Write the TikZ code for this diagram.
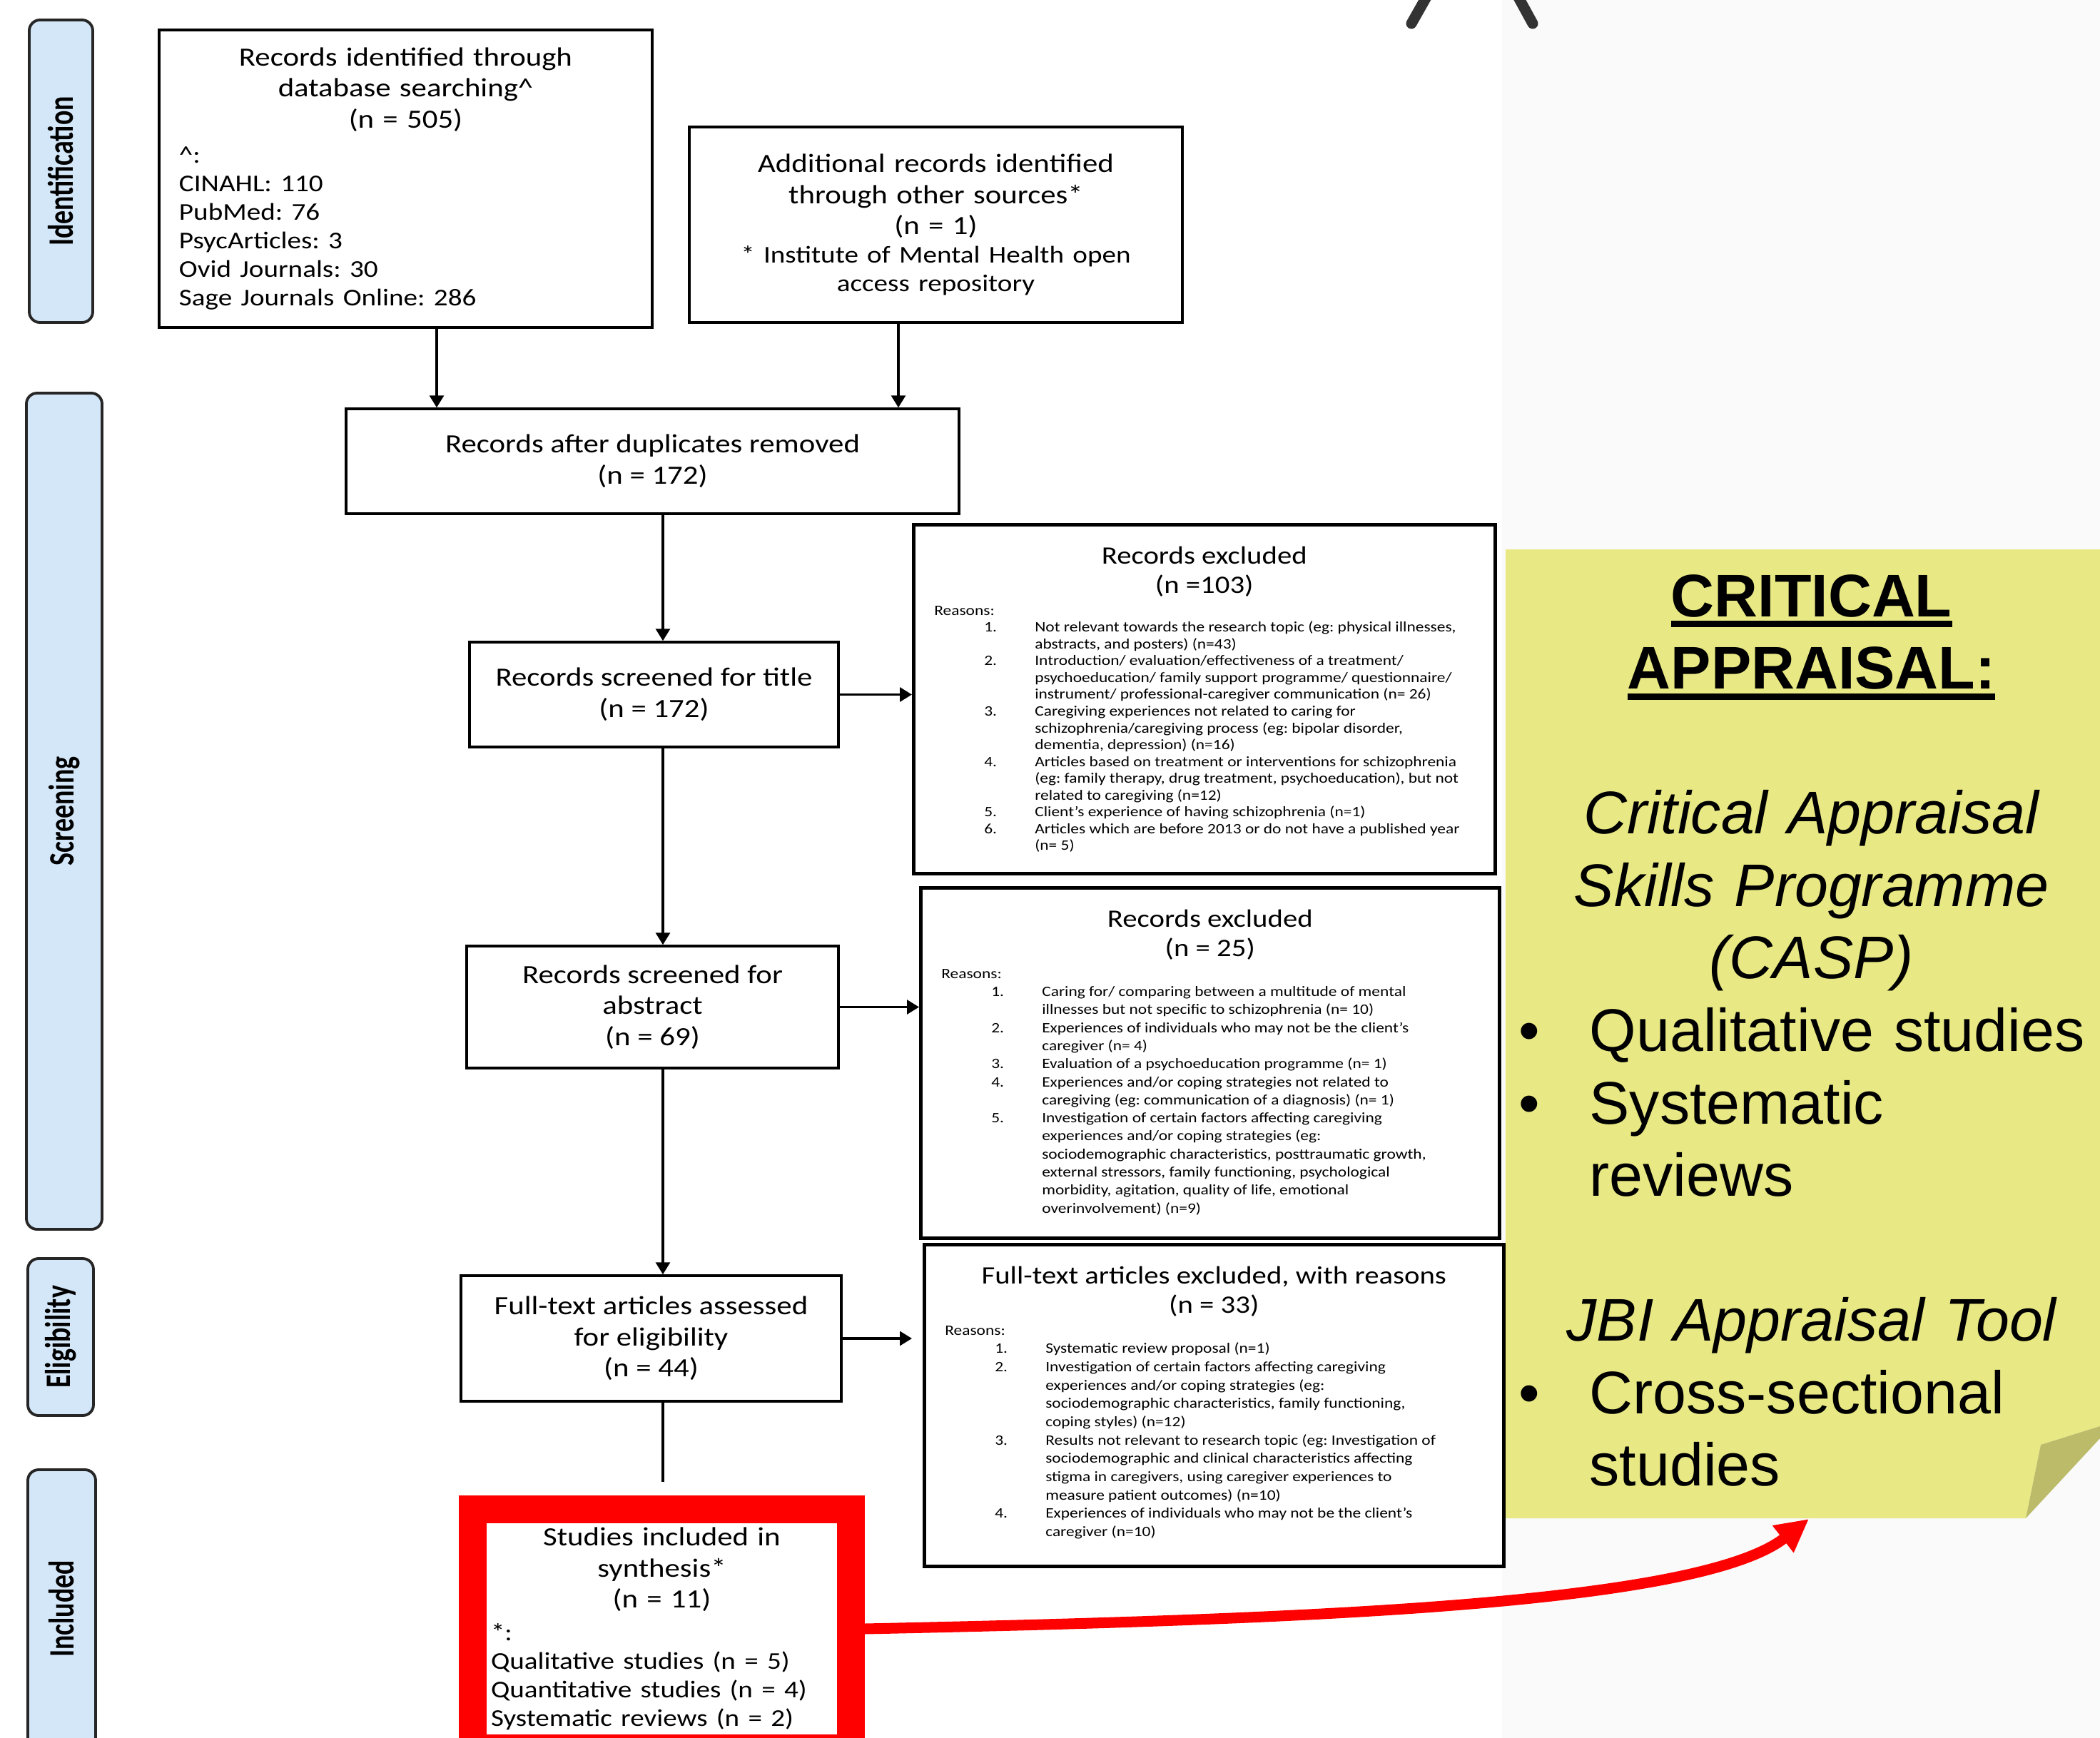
\documentclass[tikz,border=0pt]{standalone}
\usepackage{fontspec}
\usepackage{xcolor}
\usepackage{graphicx}
\usetikzlibrary{arrows.meta}
\newfontfamily\boxfont[FakeStretch=1.16]{Carlito}
\newfontfamily\tabfont{Carlito}
\newfontfamily\notefont{Liberation Sans}
\definecolor{tabblue}{RGB}{212,231,249}
\definecolor{noteyellow}{RGB}{232,232,132}
\definecolor{notefold}{RGB}{187,187,106}
\definecolor{caretgray}{RGB}{51,51,51}
\frenchspacing
\newsavebox\ulbox
\newcommand{\thickul}[1]{\leavevmode\sbox\ulbox{#1}\rlap{\rule[-4.3pt]{\wd\ulbox}{2.6pt}}\usebox\ulbox}
\newcommand{\rsn}{\hspace*{0.29cm}Reasons:}
\newcommand{\itm}[2]{\hspace*{0.99cm}\makebox[0.71cm][l]{#1}\mbox{#2}}
\newcommand{\cnt}[1]{\hspace*{1.70cm}\mbox{#1}}
\newcommand{\bul}{\makebox[0.99cm][l]{\textbullet}}
\newcommand{\exhead}[2]{\lineskiplimit=-\maxdimen{\centering\fontsize{10}{11.7}\selectfont\rule{0pt}{15.6pt}#1\\#2\par}{\fontsize{5.75}{8.8}\selectfont\rsn\par}}

\begin{document}
\begin{tikzpicture}[every node/.style={font=\boxfont},
box/.style={draw,line width=1pt,inner sep=0pt,font=\boxfont\fontsize{10.5}{12.4}\selectfont},
exbox/.style={draw,line width=1.3pt,anchor=north west,inner sep=0pt,font=\boxfont},
stage/.style={draw=black!85,line width=1.1pt,fill=tabblue,rounded corners=0.15cm,inner sep=0pt,font=\tabfont\bfseries\fontsize{10.8}{12}\selectfont},
arr/.style={line width=0.9pt,-{Triangle[length=0.17cm,width=0.2cm]}},
redarr/.style={red,line width=0.15cm,-{Triangle[length=0.46cm,width=0.45cm]}}]
\useasboundingbox (0,0) rectangle (29.43,-24.36);
\clip (0,0) rectangle (29.43,-24.36);
\fill[black!2] (21.05,0) rectangle (29.43,-24.36);

\draw[caretgray,line width=0.15cm,line cap=round] (20.08,0.2) -- (19.78,-0.33);
\draw[caretgray,line width=0.15cm,line cap=round] (21.19,0.2) -- (21.48,-0.33);

\fill[noteyellow] (21.10,-7.70) -- (29.43,-7.70) -- (29.43,-19.99) -- (28.60,-20.25) -- (28.39,-21.28) -- (21.10,-21.28) -- cycle;
\fill[notefold] (28.60,-20.25) -- (29.43,-19.99) -- (29.43,-20.16) -- (28.39,-21.28) -- cycle;

\node[stage,minimum width=0.89cm,minimum height=4.24cm] (s0) at (0.855,-2.40) {\rotatebox{90}{\scalebox{1}[1.32]{Identification}}};
\node[stage,minimum width=1.06cm,minimum height=11.72cm] (s1) at (0.90,-11.37) {\rotatebox{90}{\scalebox{1}[1.32]{Screening}}};
\node[stage,minimum width=0.92cm,minimum height=2.20cm] (s2) at (0.85,-18.74) {\rotatebox{90}{\scalebox{1}[1.32]{Eligibility}}};
\node[stage,minimum width=0.95cm,minimum height=3.90cm] (s3) at (0.865,-22.55) {\rotatebox{90}{\scalebox{1}[1.32]{Included}}};

\node[box,text width=6.35cm,inner xsep=0.28cm,minimum height=4.17cm] (n0) at (5.685,-2.505) {{\centering Records identified through\\database searching\textasciicircum\\(n = 505)\par}\vspace{2.5pt}{\fontsize{9.6}{11.4}\selectfont\textasciicircum:\\CINAHL: 110\\PubMed: 76\\PsycArticles: 3\\Ovid Journals: 30\\Sage Journals Online: 286\par}};
\node[box,text width=6.51cm,inner xsep=0.2cm,minimum height=2.74cm] (n1) at (13.115,-3.15) {{\centering Additional records identified\\through other sources*\\(n = 1)\par}{\centering\fontsize{9.6}{11.4}\selectfont * Institute of Mental Health open\\access repository\par}};

\node[box,align=center,minimum width=8.59cm,minimum height=1.47cm] (n2) at (9.145,-6.465) {Records after duplicates removed\\(n = 172)};
\node[box,align=center,minimum width=5.17cm,minimum height=1.47cm] (n3) at (9.165,-9.735) {Records screened for title\\(n = 172)};
\node[box,align=center,minimum width=5.21cm,minimum height=1.71cm] (n4) at (9.145,-14.115) {Records screened for\\abstract\\(n = 69)};
\node[box,align=center,minimum width=5.33cm,minimum height=1.76cm] (n5) at (9.125,-18.76) {Full-text articles assessed\\for eligibility\\(n = 44)};

\node[exbox] (n6) at (12.78,-7.33) {\parbox[t][4.89cm][t]{8.15cm}{\exhead{Records excluded}{(n =103)}{\fontsize{5.75}{6.7}\selectfont
\itm{1.}{Not relevant towards the research topic (eg: physical illnesses,}\\
\cnt{abstracts, and posters) (n=43)}\\
\itm{2.}{Introduction/ evaluation/effectiveness of a treatment/}\\
\cnt{psychoeducation/ family support programme/ questionnaire/}\\
\cnt{instrument/ professional-caregiver communication (n= 26)}\\
\itm{3.}{Caregiving experiences not related to caring for}\\
\cnt{schizophrenia/caregiving process (eg: bipolar disorder,}\\
\cnt{dementia, depression) (n=16)}\\
\itm{4.}{Articles based on treatment or interventions for schizophrenia}\\
\cnt{(eg: family therapy, drug treatment, psychoeducation), but not}\\
\cnt{related to caregiving (n=12)}\\
\itm{5.}{Client’s experience of having schizophrenia (n=1)}\\
\itm{6.}{Articles which are before 2013 or do not have a published year}\\
\cnt{(n= 5)}\par}}};

\node[exbox] (n7) at (12.88,-12.42) {\parbox[t][4.91cm][t]{8.11cm}{\exhead{Records excluded}{(n = 25)}{\fontsize{5.75}{7.2}\selectfont
\itm{1.}{Caring for/ comparing between a multitude of mental}\\
\cnt{illnesses but not specific to schizophrenia (n= 10)}\\
\itm{2.}{Experiences of individuals who may not be the client’s}\\
\cnt{caregiver (n= 4)}\\
\itm{3.}{Evaluation of a psychoeducation programme (n= 1)}\\
\itm{4.}{Experiences and/or coping strategies not related to}\\
\cnt{caregiving (eg: communication of a diagnosis) (n= 1)}\\
\itm{5.}{Investigation of certain factors affecting caregiving}\\
\cnt{experiences and/or coping strategies (eg:}\\
\cnt{sociodemographic characteristics, posttraumatic growth,}\\
\cnt{external stressors, family functioning, psychological}\\
\cnt{morbidity, agitation, quality of life, emotional}\\
\cnt{overinvolvement) (n=9)}\par}}};

\node[exbox] (n8) at (12.93,-17.42) {\parbox[t][4.51cm][t]{8.12cm}{\exhead{Full-text articles excluded, with reasons}{(n = 33)}{\fontsize{5.75}{7.3}\selectfont
\itm{1.}{Systematic review proposal (n=1)}\\
\itm{2.}{Investigation of certain factors affecting caregiving}\\
\cnt{experiences and/or coping strategies (eg:}\\
\cnt{sociodemographic characteristics, family functioning,}\\
\cnt{coping styles) (n=12)}\\
\itm{3.}{Results not relevant to research topic (eg: Investigation of}\\
\cnt{sociodemographic and clinical characteristics affecting}\\
\cnt{stigma in caregivers, using caregiver experiences to}\\
\cnt{measure patient outcomes) (n=10)}\\
\itm{4.}{Experiences of individuals who may not be the client’s}\\
\cnt{caregiver (n=10)}\par}}};

\node[box,draw=red,line width=0.39cm,fill=white,text width=4.79cm,inner xsep=0.255cm,minimum height=3.35cm] (n9) at (9.275,-22.83) {{\centering Studies included in\\synthesis*\\(n = 11)\par}\vspace{1.5pt}{\fontsize{9.6}{11.4}\selectfont *:\\Qualitative studies (n = 5)\\Quantitative studies (n = 4)\\Systematic reviews (n = 2)\par}};

\node[anchor=base west,text width=8.2cm,inner sep=0pt,font=\notefont\fontsize{24}{28.9}\selectfont] (n10) at (21.28,-8.64) {{\centering{\bfseries\thickul{CRITICAL}\\\thickul{APPRAISAL:}}\\\mbox{}\\{\itshape Critical Appraisal\\Skills Programme\\(CASP)}\par}\bul Qualitative studies\\\bul Systematic\\\hspace*{0.99cm}reviews\\\mbox{}\par{\centering\itshape JBI Appraisal Tool\par}\bul Cross-sectional\\\hspace*{0.99cm}studies\par};

\coordinate (c0) at (9.29,0);
\coordinate (c1) at (6.12,0);
\coordinate (c2) at (12.59,0);
\coordinate (c3) at (25.35,-21.29);

\draw[arr] (n0.south -| c1) -- (n2.north -| c1);
\draw[arr] (n1.south -| c2) -- (n2.north -| c2);
\draw[arr] (n2.south -| c0) -- (n3.north -| c0);
\draw[arr] (n3.east) -- (n3.east -| n6.west);
\draw[arr] (n3.south -| c0) -- (n4.north -| c0);
\draw[arr] (n4.east) -- (n4.east -| n7.west);
\draw[arr] (n4.south -| c0) -- (n5.north -| c0);
\draw[arr,shorten >=0.15cm] (n5.east) -- (n5.east -| n8.west);
\draw[line width=0.9pt,shorten >=0.195cm] (n5.south -| c0) -- (n9.north -| c0);
\draw[redarr] (n9.east) .. controls +(6.08,0.13) and +(-1.55,-1.21) .. (c3);
\end{tikzpicture}
\end{document}
